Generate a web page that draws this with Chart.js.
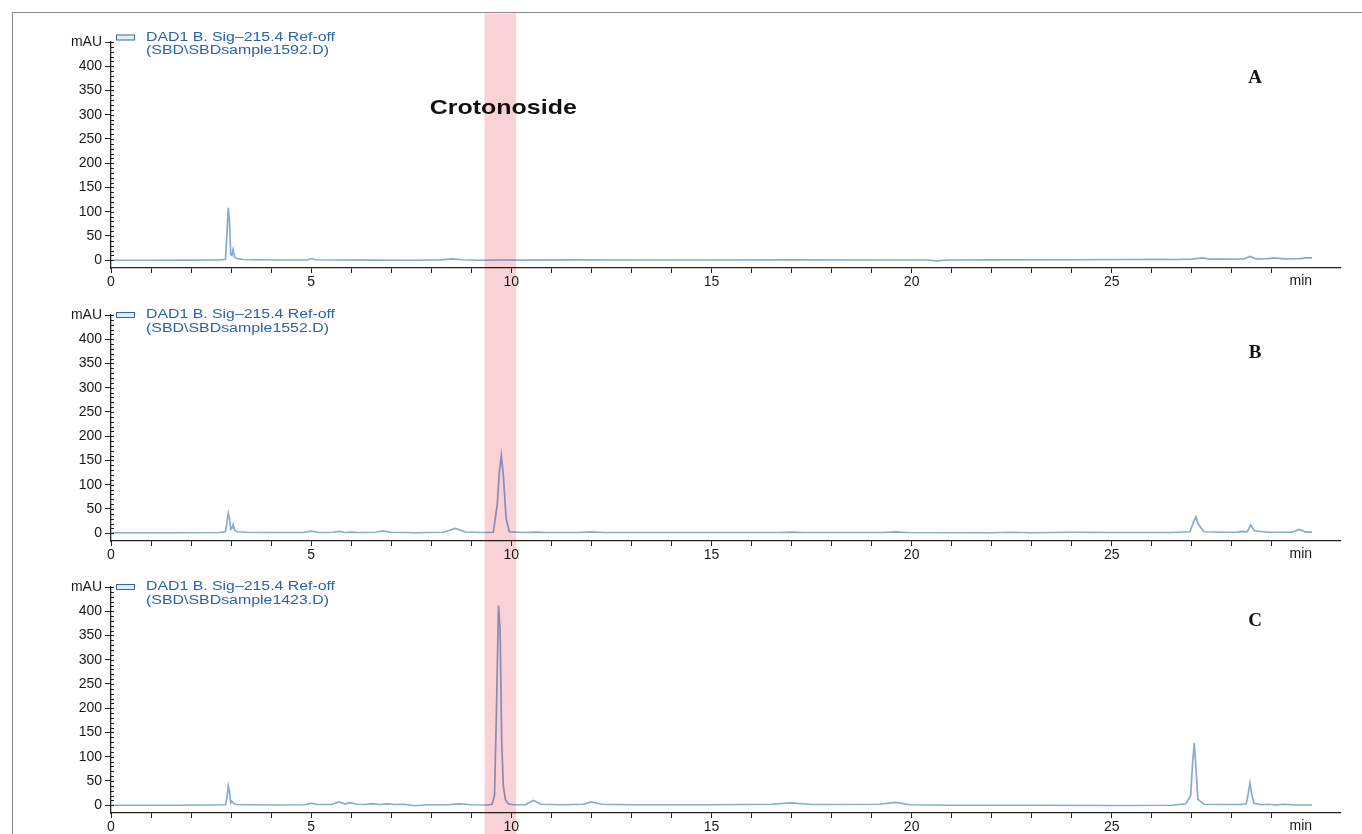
<!DOCTYPE html>
<html><head><meta charset="utf-8">
<script src="https://cdn.jsdelivr.net/npm/chart.js@4.4.1/dist/chart.umd.min.js"></script>
<style>
html,body{margin:0;padding:0;background:#fff;width:1362px;height:834px;overflow:hidden;}
#frame{position:absolute;left:12px;top:12px;width:1360px;height:830px;border-left:1.5px solid #8a8a8a;border-top:1.5px solid #8a8a8a;}
.pane{position:absolute;left:0;width:1362px;}
</style></head><body>
<div id="frame"></div>
<div class="pane" style="top:12px;height:278px"><canvas id="cA"></canvas></div>
<div class="pane" style="top:290px;height:272px"><canvas id="cB"></canvas></div>
<div class="pane" style="top:562px;height:272px"><canvas id="cC"></canvas></div>
<script>
// ---- data ----
const timesA = [0, 1.0, 2.0, 2.7, 2.86, 2.9, 2.93, 2.96, 2.99, 3.02,
 3.05, 3.09, 3.15, 3.3, 3.6, 4.2, 4.9, 5.0, 5.12, 5.6,
 6.5, 7.5, 8.2, 8.55, 8.75, 9.2, 9.8, 10.4, 11.5, 13,
 15, 17, 19, 20.4, 20.6, 20.9, 22, 24, 25.5, 26.2,
 26.6, 27.0, 27.25, 27.45, 27.8, 28.3, 28.45, 28.6, 28.9, 29.05,
 29.3, 29.7, 29.85, 30];
const signalA = [0, 0, 0.3, 0.5, 2, 60, 108, 80, 12, 10,
 22, 6, 3, 1.5, 1, 0.5, 0.5, 3.5, 1, 0.5,
 0.3, 0, 0.8, 3, 1, 0, 0.5, 0.3, 0.8, 0.5,
 0.5, 0.8, 0.5, 0.5, -1.5, 0.5, 0.8, 1, 1.5, 2,
 1.5, 2.5, 5, 2.5, 2.5, 3, 8, 3, 3.5, 5,
 3, 3.5, 5, 5];

const timesB = [0, 1.5, 2.7, 2.86, 2.9, 2.93, 2.96, 2.99, 3.02, 3.05,
 3.09, 3.15, 3.4, 4.0, 4.8, 5.0, 5.2, 5.55, 5.7, 5.85,
 6.0, 6.2, 6.6, 6.8, 7.0, 7.6, 8.3, 8.6, 8.85, 9.3,
 9.55, 9.65, 9.7, 9.75, 9.8, 9.87, 9.95, 10.3, 10.6, 10.9,
 11.7, 12.0, 12.3, 14, 16.7, 17.0, 17.3, 19.3, 19.6, 19.9,
 22, 22.5, 23, 24, 25, 26.5, 26.95, 27.05, 27.1, 27.15,
 27.3, 27.8, 28.15, 28.25, 28.38, 28.47, 28.56, 28.9, 29.5, 29.68,
 29.85, 30];
const signalB = [1, 1, 1.5, 3, 25, 41, 30, 8, 10, 18,
 6, 3, 2, 1.5, 1.5, 4.5, 1.5, 2, 4, 1.5,
 2.5, 1.5, 2, 5, 2, 1, 2, 10, 2.5, 1.5,
 2, 60, 125, 160, 120, 30, 3, 1.5, 2.5, 1.5,
 1.5, 3, 1.5, 1.5, 1.5, 2.5, 1.5, 1.5, 3, 1.5,
 1, 2, 1, 2, 1.5, 1.5, 3, 25, 34, 20,
 3, 2, 2.5, 4, 3, 17, 5, 2, 2, 8,
 2.5, 2.5];

const timesC = [0, 1.5, 2.5, 2.86, 2.9, 2.93, 2.96, 2.99, 3.02, 3.06,
 3.12, 3.4, 4.2, 4.85, 5.0, 5.15, 5.5, 5.7, 5.85, 5.95,
 6.02, 6.15, 6.35, 6.5, 6.7, 6.9, 7.1, 7.3, 7.6, 7.9,
 8.4, 8.7, 9.0, 9.4, 9.52, 9.58, 9.63, 9.68, 9.72, 9.76,
 9.8, 9.85, 9.92, 10.05, 10.35, 10.55, 10.75, 11.3, 11.8, 12.0,
 12.25, 13, 15, 16.5, 17.0, 17.5, 19.2, 19.6, 19.95, 21,
 23, 25, 26.5, 26.85, 26.97, 27.02, 27.06, 27.1, 27.15, 27.3,
 27.7, 28.2, 28.36, 28.41, 28.45, 28.49, 28.55, 28.75, 28.9, 29.1,
 29.3, 29.6, 30];
const signalC = [0, 0, 0.5, 1, 18, 40, 28, 5, 8, 4,
 1.5, 1, 0.5, 1, 4.5, 1.5, 1.5, 7, 2.5, 5,
 4.5, 2, 1.5, 3.5, 1.5, 3, 1.5, 2, -1, 1,
 1, 3, 1, 0.5, 2, 20, 200, 412, 360, 130,
 40, 12, 3, 1, 1, 10, 2, 1, 2, 7,
 2, 1, 1, 2, 5, 1.5, 2, 6, 1, 0,
 0, -0.5, 0, 3, 20, 90, 128, 80, 12, 2,
 1.5, 1.5, 3, 25, 46, 25, 4, 1, 2, 0.5,
 2, 0.5, 0.5];

const panelLetters = ['A', 'B', 'C'];
const legendTitle = 'DAD1 B. Sig\u2013215.4 Ref-off';
const legendFiles = ['(SBD\\SBDsample1592.D)', '(SBD\\SBDsample1552.D)', '(SBD\\SBDsample1423.D)'];
const yTickValues = [0, 50, 100, 150, 200, 250, 300, 350, 400, 450];
const yUnit = 'mAU';
const xTickValues = [0,1,2,3,4,5,6,7,8,9,10,11,12,13,14,15,16,17,18,19,20,21,22,23,24,25,26,27,28,29];
const xTickLabels = [0, 5, 10, 15, 20, 25];
const xUnit = 'min';
const bandRange = [9.33, 10.12];
const bandLabel = 'Crotonoside';

// ---- drawing ----
const SANS = "'Liberation Sans', Arial, sans-serif";
function fitText(ctx, text, x, y, width, font, color, align) {
  ctx.save();
  ctx.font = font; ctx.fillStyle = color; ctx.textBaseline = 'middle';
  const w = ctx.measureText(text).width;
  const sx = width / w;
  let left = x;
  if (align === 'center') left = x - width / 2;
  ctx.translate(left, y); ctx.scale(sx, 1);
  ctx.textAlign = 'left';
  ctx.fillText(text, 0, 0);
  ctx.restore();
}

function makeChart(id, idx, times, values, layout) {
  const overlay = {
    id: 'overlay' + idx,
    afterDraw(chart) {
      const ctx = chart.ctx, xs = chart.scales.x, ys = chart.scales.y, ca = chart.chartArea;
      ctx.save();
      // minor y ticks
      ctx.strokeStyle = '#222'; ctx.lineWidth = 1;
      ctx.beginPath();
      for (let v = 0; v <= 450; v += 10) {
        const py = Math.round(ys.getPixelForValue(v)) + 0.5;
        ctx.moveTo(ca.left, py); ctx.lineTo(ca.left + 3, py);
      }
      ctx.stroke();
      // unit on x axis
      ctx.font = '14px ' + SANS; ctx.fillStyle = '#1a1a1a'; ctx.textAlign = 'center'; ctx.textBaseline = 'top';
      ctx.fillText(xUnit, xs.getPixelForValue(29.72), ca.bottom + 6);
      // legend
      const ly = ca.top + layout.legendDy;
      ctx.strokeStyle = '#2f66b0'; ctx.lineWidth = 1; ctx.fillStyle = '#e4eef9';
      ctx.fillRect(116.5, ly - 2.5, 18, 5); ctx.strokeRect(116.5, ly - 2.5, 18, 5);
      fitText(ctx, legendTitle, 146, ly, 189, '12px ' + SANS, '#2a62b0', 'left');
      fitText(ctx, legendFiles[idx], 146, ly + 13.5, 183, '12px ' + SANS, '#2a62b0', 'left');
      // panel letter
      ctx.font = "bold 19px 'Liberation Serif', 'Times New Roman', serif";
      ctx.fillStyle = '#111'; ctx.textAlign = 'center'; ctx.textBaseline = 'middle';
      ctx.fillText(panelLetters[idx], 1255, ca.top + layout.letterDy);
      if (idx === 0) {
        fitText(ctx, bandLabel, xs.getPixelForValue((bandRange[0] + bandRange[1]) / 2) + 3, 107 - 11, 147, 'bold 21px ' + SANS, '#111', 'center');
      }
      // highlight band (multiply so the trace shows through)
      ctx.globalCompositeOperation = 'multiply';
      ctx.fillStyle = '#fbd1d8';
      const x0 = xs.getPixelForValue(bandRange[0]), x1 = xs.getPixelForValue(bandRange[1]);
      ctx.fillRect(x0, layout.bandTop, x1 - x0, chart.height - layout.bandTop);
      ctx.restore();
    }
  };
  const tickFont = {family: SANS, size: 14};
  return new Chart(document.getElementById(id), {
    type: 'line',
    data: {datasets: [{
      data: times.map((t, i) => ({x: t, y: values[i]})),
      borderColor: '#8aaad2', borderWidth: 1.7, pointRadius: 0, tension: 0, fill: false
    }]},
    options: {
      responsive: true, maintainAspectRatio: false, animation: false,
      layout: {padding: {top: layout.top, bottom: layout.bottom, left: 0, right: 22}},
      plugins: {legend: {display: false}, tooltip: {enabled: false}},
      scales: {
        x: {
          type: 'linear', min: 0, max: 30.7,
          afterFit(s) { s.height = 20; },
          afterBuildTicks(s) { s.ticks = xTickValues.map(v => ({value: v})); },
          ticks: {autoSkip: false, maxRotation: 0, padding: 1, color: '#1a1a1a', font: tickFont,
            callback: v => xTickLabels.includes(v) ? String(v) : ''},
          grid: {drawOnChartArea: false, drawTicks: true, tickLength: 5, tickColor: '#222', tickWidth: 1},
          border: {display: true, color: '#222', width: 1.3}
        },
        y: {
          min: -16, max: 450,
          afterFit(s) { s.width = 111; },
          afterBuildTicks(s) { s.ticks = yTickValues.map(v => ({value: v})); },
          ticks: {autoSkip: false, padding: 3, color: '#1a1a1a', font: tickFont,
            callback: v => v === 450 ? yUnit : String(v)},
          grid: {drawOnChartArea: false, drawTicks: true, tickLength: 6, tickColor: '#222', tickWidth: 1},
          border: {display: true, color: '#222', width: 1.3}
        }
      }
    },
    plugins: [overlay]
  });
}

makeChart('cA', 0, timesA, signalA, {top: 30, bottom: 2, legendDy: -4.5, letterDy: 36, bandTop: 1.5});
makeChart('cB', 1, timesB, signalB, {top: 25, bottom: 1, legendDy: 0, letterDy: 38, bandTop: 0});
makeChart('cC', 2, timesC, signalC, {top: 25, bottom: 1, legendDy: 0, letterDy: 34, bandTop: 0});
</script>
</body></html>
